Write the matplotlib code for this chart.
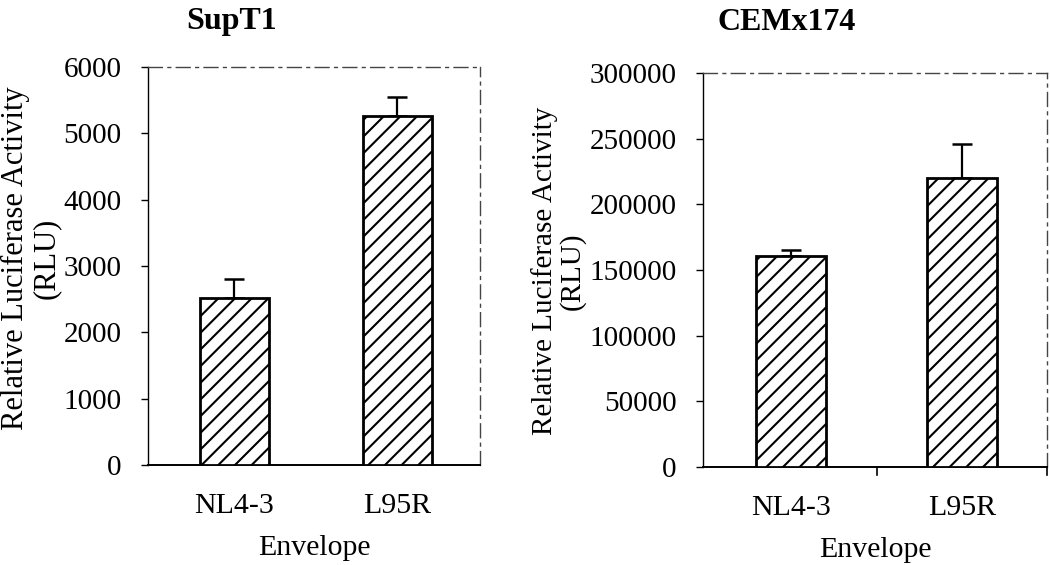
import matplotlib
matplotlib.use("Agg")
import matplotlib.pyplot as plt

plt.rcParams['font.family'] = ['Liberation Serif', 'DejaVu Serif']
plt.rcParams['hatch.linewidth'] = 1.5
plt.rcParams['hatch.color'] = '#444444'

categories = ["NL4-3", "L95R"]

supt1_values = [2520, 5265]
supt1_errors = [285, 287]
supt1_ticks = [0, 1000, 2000, 3000, 4000, 5000, 6000]

cem_values = [160700, 220000]
cem_errors = [4600, 26000]
cem_ticks = [0, 50000, 100000, 150000, 200000, 250000, 300000]

titles = ["SupT1", "CEMx174"]
ylabel_text = "Relative Luciferase Activity\n(RLU)"
xlabel_text = "Envelope"

FS = 21
W, H = 1050, 565
fig = plt.figure(figsize=(W / 100, H / 100), dpi=100)

def px(x0, y_top, x1, y_bot):
    return [x0 / W, 1 - y_bot / H, (x1 - x0) / W, (y_bot - y_top) / H]

ax1 = fig.add_axes(px(148, 67, 480, 465))
ax2 = fig.add_axes(px(703, 73, 1047, 467))

def style(ax, vals, errs, ticks, xlim, width, mid_ticks):
    x = list(range(len(categories)))
    ax.bar(x, vals, width=width, color='white', edgecolor='black',
           linewidth=2.0, hatch='//', zorder=3)
    ax.errorbar(x, vals, yerr=[[0] * len(errs), errs], fmt='none',
                ecolor='black', elinewidth=1.6, capsize=7, capthick=1.8,
                zorder=2)
    ax.set_xlim(*xlim)
    ax.set_ylim(ticks[0], ticks[-1])
    ax.set_yticks(ticks)
    ax.set_yticklabels([str(t) for t in ticks], fontsize=FS)
    ax.tick_params(axis='y', direction='out', length=5, width=1, pad=14)
    ax.set_xticks(x)
    ax.set_xticklabels(categories, fontsize=21.5)
    ax.tick_params(axis='x', length=0, pad=20)
    if mid_ticks:
        for t in mid_ticks:
            ax.plot([t, t], [0, -0.02], transform=ax.get_xaxis_transform(),
                    color='black', lw=1.2, clip_on=False)
    ax.spines['bottom'].set_linewidth(1.4)
    ax.spines['left'].set_linewidth(1.0)
    for s in ('top', 'right'):
        ax.spines[s].set_linewidth(1.0)
        ax.spines[s].set_color('#444444')
        ax.spines[s].set_linestyle((0, (10, 4, 2, 4)))

style(ax1, supt1_values, supt1_errors, supt1_ticks, (-0.53, 1.506), 0.42, None)
style(ax2, cem_values, cem_errors, cem_ticks, (-0.515, 1.497), 0.41, [0.503, 1.497])

ax1.set_xlabel(xlabel_text, fontsize=21.5, labelpad=12)
ax2.set_xlabel(xlabel_text, fontsize=21.5, labelpad=12)

fig.text(31 / W, 1 - 258 / H, ylabel_text, rotation=90, ha='center', va='center',
         fontsize=22, linespacing=1.05, multialignment='center')
fig.text(558 / W, 1 - 271 / H, ylabel_text, rotation=90, ha='center', va='center',
         fontsize=21, linespacing=1.05, multialignment='center')

fig.text(232 / W, 1 - 22 / H, titles[0], ha='center', va='center',
         fontsize=23, fontweight='bold')
fig.text(787 / W, 1 - 22 / H, titles[1], ha='center', va='center',
         fontsize=23, fontweight='bold')

fig.savefig("out.png", dpi=100)
